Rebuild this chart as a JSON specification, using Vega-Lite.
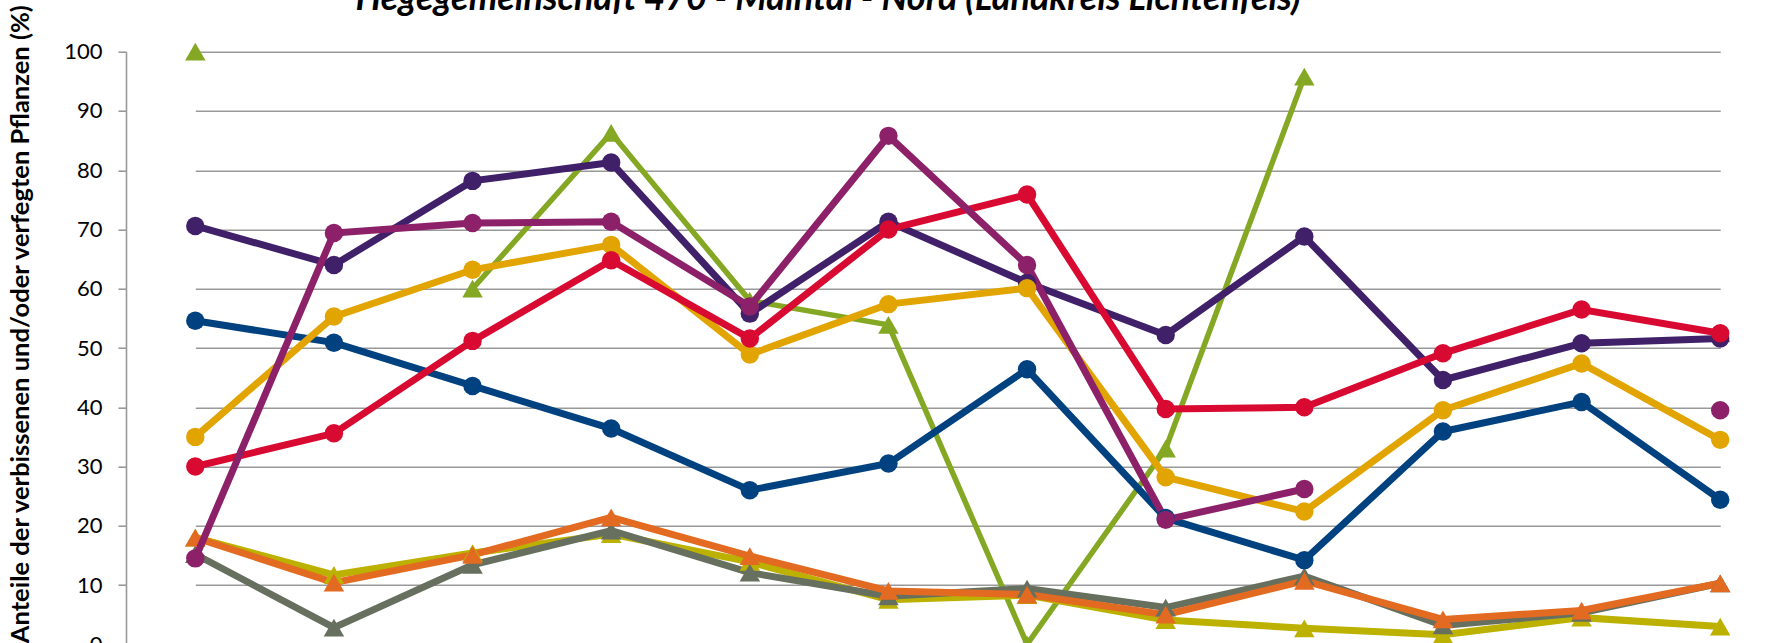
{
  "$schema": "https://vega.github.io/schema/vega-lite/v6.json",
  "autosize": {"type": "none"},
  "width": 1652,
  "height": 591.3,
  "padding": {"left": 126, "top": 51.7, "right": 0, "bottom": 0},
  "background": "white",
  "title": {
    "text": "Hegegemeinschaft 470 - Maintal - Nord (Landkreis Lichtenfels)",
    "font": "Lato", "fontSize": 36, "fontWeight": "bold", "fontStyle": "italic", "color": "#000000",
    "anchor": "middle", "frame": "group", "dx": -124, "dy": 43, "offset": 1, "baseline": "alphabetic"
  },
  "config": {"view": {"stroke": null}},
  "datasets": {
    "d": [
      {"Reihe": "Edellaubholz", "Jahr": "1991", "Wert": 70.6},
      {"Reihe": "Edellaubholz", "Jahr": "1994", "Wert": 64.0},
      {"Reihe": "Edellaubholz", "Jahr": "1997", "Wert": 78.2},
      {"Reihe": "Edellaubholz", "Jahr": "2000", "Wert": 81.3},
      {"Reihe": "Edellaubholz", "Jahr": "2003", "Wert": 55.8},
      {"Reihe": "Edellaubholz", "Jahr": "2006", "Wert": 71.3},
      {"Reihe": "Edellaubholz", "Jahr": "2009", "Wert": 61.0},
      {"Reihe": "Edellaubholz", "Jahr": "2012", "Wert": 52.2},
      {"Reihe": "Edellaubholz", "Jahr": "2015", "Wert": 68.8},
      {"Reihe": "Edellaubholz", "Jahr": "2018", "Wert": 44.6},
      {"Reihe": "Edellaubholz", "Jahr": "2021", "Wert": 50.8},
      {"Reihe": "Edellaubholz", "Jahr": "2024", "Wert": 51.6},

      {"Reihe": "Buche", "Jahr": "1991", "Wert": 54.6},
      {"Reihe": "Buche", "Jahr": "1994", "Wert": 50.9},
      {"Reihe": "Buche", "Jahr": "1997", "Wert": 43.6},
      {"Reihe": "Buche", "Jahr": "2000", "Wert": 36.4},
      {"Reihe": "Buche", "Jahr": "2003", "Wert": 26.0},
      {"Reihe": "Buche", "Jahr": "2006", "Wert": 30.5},
      {"Reihe": "Buche", "Jahr": "2009", "Wert": 46.4},
      {"Reihe": "Buche", "Jahr": "2012", "Wert": 21.3},
      {"Reihe": "Buche", "Jahr": "2015", "Wert": 14.2},
      {"Reihe": "Buche", "Jahr": "2018", "Wert": 35.9},
      {"Reihe": "Buche", "Jahr": "2021", "Wert": 40.9},
      {"Reihe": "Buche", "Jahr": "2024", "Wert": 24.4},

      {"Reihe": "Sonstiges Laubholz", "Jahr": "1991", "Wert": 35.0},
      {"Reihe": "Sonstiges Laubholz", "Jahr": "1994", "Wert": 55.3},
      {"Reihe": "Sonstiges Laubholz", "Jahr": "1997", "Wert": 63.2},
      {"Reihe": "Sonstiges Laubholz", "Jahr": "2000", "Wert": 67.4},
      {"Reihe": "Sonstiges Laubholz", "Jahr": "2003", "Wert": 48.9},
      {"Reihe": "Sonstiges Laubholz", "Jahr": "2006", "Wert": 57.4},
      {"Reihe": "Sonstiges Laubholz", "Jahr": "2009", "Wert": 60.1},
      {"Reihe": "Sonstiges Laubholz", "Jahr": "2012", "Wert": 28.2},
      {"Reihe": "Sonstiges Laubholz", "Jahr": "2015", "Wert": 22.4},
      {"Reihe": "Sonstiges Laubholz", "Jahr": "2018", "Wert": 39.5},
      {"Reihe": "Sonstiges Laubholz", "Jahr": "2021", "Wert": 47.4},
      {"Reihe": "Sonstiges Laubholz", "Jahr": "2024", "Wert": 34.5},

      {"Reihe": "Eiche", "Jahr": "1991", "Wert": 30.0},
      {"Reihe": "Eiche", "Jahr": "1994", "Wert": 35.6},
      {"Reihe": "Eiche", "Jahr": "1997", "Wert": 51.2},
      {"Reihe": "Eiche", "Jahr": "2000", "Wert": 64.8},
      {"Reihe": "Eiche", "Jahr": "2003", "Wert": 51.6},
      {"Reihe": "Eiche", "Jahr": "2006", "Wert": 70.0},
      {"Reihe": "Eiche", "Jahr": "2009", "Wert": 75.9},
      {"Reihe": "Eiche", "Jahr": "2012", "Wert": 39.7},
      {"Reihe": "Eiche", "Jahr": "2015", "Wert": 40.0},
      {"Reihe": "Eiche", "Jahr": "2018", "Wert": 49.1},
      {"Reihe": "Eiche", "Jahr": "2021", "Wert": 56.5},
      {"Reihe": "Eiche", "Jahr": "2024", "Wert": 52.5},

      {"Reihe": "Tanne", "Jahr": "1991", "Wert": 14.5},
      {"Reihe": "Tanne", "Jahr": "1994", "Wert": 69.4},
      {"Reihe": "Tanne", "Jahr": "1997", "Wert": 71.1},
      {"Reihe": "Tanne", "Jahr": "2000", "Wert": 71.3},
      {"Reihe": "Tanne", "Jahr": "2003", "Wert": 57.0},
      {"Reihe": "Tanne", "Jahr": "2006", "Wert": 85.8},
      {"Reihe": "Tanne", "Jahr": "2009", "Wert": 64.0},
      {"Reihe": "Tanne", "Jahr": "2012", "Wert": 21.0},
      {"Reihe": "Tanne", "Jahr": "2015", "Wert": 26.2},
      {"Reihe": "Tanne", "Jahr": "2018", "Wert": null},
      {"Reihe": "Tanne", "Jahr": "2021", "Wert": null},
      {"Reihe": "Tanne", "Jahr": "2024", "Wert": 39.5},

      {"Reihe": "Fichte", "Jahr": "1991", "Wert": 18.0},
      {"Reihe": "Fichte", "Jahr": "1994", "Wert": 11.7},
      {"Reihe": "Fichte", "Jahr": "1997", "Wert": 15.4},
      {"Reihe": "Fichte", "Jahr": "2000", "Wert": 18.6},
      {"Reihe": "Fichte", "Jahr": "2003", "Wert": 13.9},
      {"Reihe": "Fichte", "Jahr": "2006", "Wert": 7.5},
      {"Reihe": "Fichte", "Jahr": "2009", "Wert": 8.3},
      {"Reihe": "Fichte", "Jahr": "2012", "Wert": 4.1},
      {"Reihe": "Fichte", "Jahr": "2015", "Wert": 2.7},
      {"Reihe": "Fichte", "Jahr": "2018", "Wert": 1.6},
      {"Reihe": "Fichte", "Jahr": "2021", "Wert": 4.5},
      {"Reihe": "Fichte", "Jahr": "2024", "Wert": 3.0},

      {"Reihe": "Kiefer", "Jahr": "1991", "Wert": 15.2},
      {"Reihe": "Kiefer", "Jahr": "1994", "Wert": 2.8},
      {"Reihe": "Kiefer", "Jahr": "1997", "Wert": 13.4},
      {"Reihe": "Kiefer", "Jahr": "2000", "Wert": 19.2},
      {"Reihe": "Kiefer", "Jahr": "2003", "Wert": 12.1},
      {"Reihe": "Kiefer", "Jahr": "2006", "Wert": 8.1},
      {"Reihe": "Kiefer", "Jahr": "2009", "Wert": 9.4},
      {"Reihe": "Kiefer", "Jahr": "2012", "Wert": 6.2},
      {"Reihe": "Kiefer", "Jahr": "2015", "Wert": 11.5},
      {"Reihe": "Kiefer", "Jahr": "2018", "Wert": 3.2},
      {"Reihe": "Kiefer", "Jahr": "2021", "Wert": 5.3},
      {"Reihe": "Kiefer", "Jahr": "2024", "Wert": 10.3},

      {"Reihe": "Tanne verfegt", "Jahr": "1991", "Wert": 100},
      {"Reihe": "Tanne verfegt", "Jahr": "1994", "Wert": null},
      {"Reihe": "Tanne verfegt", "Jahr": "1997", "Wert": 60.0},
      {"Reihe": "Tanne verfegt", "Jahr": "2000", "Wert": 86.3},
      {"Reihe": "Tanne verfegt", "Jahr": "2003", "Wert": 58.0},
      {"Reihe": "Tanne verfegt", "Jahr": "2006", "Wert": 53.9},
      {"Reihe": "Tanne verfegt", "Jahr": "2009", "Wert": 0},
      {"Reihe": "Tanne verfegt", "Jahr": "2012", "Wert": 33.0},
      {"Reihe": "Tanne verfegt", "Jahr": "2015", "Wert": 95.8},
      {"Reihe": "Tanne verfegt", "Jahr": "2018", "Wert": null},
      {"Reihe": "Tanne verfegt", "Jahr": "2021", "Wert": null},
      {"Reihe": "Tanne verfegt", "Jahr": "2024", "Wert": 52.5},

      {"Reihe": "Laubholz verfegt", "Jahr": "1991", "Wert": 18.0},
      {"Reihe": "Laubholz verfegt", "Jahr": "1994", "Wert": 10.4},
      {"Reihe": "Laubholz verfegt", "Jahr": "1997", "Wert": 15.1},
      {"Reihe": "Laubholz verfegt", "Jahr": "2000", "Wert": 21.4},
      {"Reihe": "Laubholz verfegt", "Jahr": "2003", "Wert": 14.9},
      {"Reihe": "Laubholz verfegt", "Jahr": "2006", "Wert": 9.0},
      {"Reihe": "Laubholz verfegt", "Jahr": "2009", "Wert": 8.4},
      {"Reihe": "Laubholz verfegt", "Jahr": "2012", "Wert": 5.0},
      {"Reihe": "Laubholz verfegt", "Jahr": "2015", "Wert": 10.7},
      {"Reihe": "Laubholz verfegt", "Jahr": "2018", "Wert": 4.2},
      {"Reihe": "Laubholz verfegt", "Jahr": "2021", "Wert": 5.7},
      {"Reihe": "Laubholz verfegt", "Jahr": "2024", "Wert": 10.3}
    ]
  },
  "data": {"name": "d"},
  "encoding": {
    "x": {
      "field": "Jahr", "type": "ordinal",
      "scale": {"type": "point", "padding": 0, "domain": ["1991","1994","1997","2000","2003","2006","2009","2012","2015","2018","2021","2024"], "range": [69.3, 1594.2]},
      "axis": null
    },
    "y": {
      "field": "Wert", "type": "quantitative",
      "scale": {"domain": [0, 100], "range": [592.6, 0], "nice": false},
      "axis": {
        "values": [0,10,20,30,40,50,60,70,80,90,100],
        "grid": true, "gridColor": "#999999", "gridWidth": 1.6,
        "domain": true, "domainColor": "#999999", "domainWidth": 1.6,
        "ticks": true, "tickColor": "#999999", "tickWidth": 1.6, "tickSize": 8,
        "labelFont": "Lato", "labelFontSize": 22, "labelColor": "#000000", "labelPadding": 16,
        "title": "Anteile der verbissenen und/oder verfegten Pflanzen (%)",
        "titleFont": "Lato", "titleFontSize": 25.5, "titleFontWeight": "bold", "titleColor": "#000000",
        "titleX": -106, "titleY": 272, "titleAngle": 270, "titleAlign": "center", "titleBaseline": "middle"
      }
    },
    "color": {
      "field": "Reihe", "type": "nominal", "legend": null,
      "scale": {
        "domain": ["Fichte","Kiefer","Tanne verfegt","Laubholz verfegt","Buche","Edellaubholz","Sonstiges Laubholz","Eiche","Tanne"],
        "range": ["#BDB100","#67705F","#84A823","#E36A21","#00417F","#3F2069","#E2A400","#D90A31","#8D2169"]
      }
    }
  },
  "layer": [
    {
      "transform": [{"filter": {"field": "Reihe", "oneOf": ["Tanne verfegt"]}}],
      "mark": {"type": "line", "strokeWidth": 5.5, "invalid": "break-paths-filter-domains"}
    },
    {
      "transform": [{"filter": {"field": "Reihe", "oneOf": ["Fichte","Kiefer","Laubholz verfegt"]}}],
      "mark": {"type": "line", "strokeWidth": 7, "invalid": "break-paths-filter-domains"}
    },
    {
      "transform": [{"filter": {"field": "Reihe", "oneOf": ["Fichte","Kiefer","Tanne verfegt","Laubholz verfegt"]}}, {"filter": "datum.Wert != null"}],
      "mark": {"type": "point", "shape": "triangle-up", "filled": true, "opacity": 1, "size": 420}
    },
    {
      "transform": [{"filter": {"field": "Reihe", "oneOf": ["Buche","Edellaubholz","Sonstiges Laubholz","Eiche","Tanne"]}}],
      "mark": {"type": "line", "strokeWidth": 7, "invalid": "break-paths-filter-domains"}
    },
    {
      "transform": [{"filter": {"field": "Reihe", "oneOf": ["Buche","Edellaubholz","Sonstiges Laubholz","Eiche","Tanne"]}}, {"filter": "datum.Wert != null"}],
      "mark": {"type": "circle", "opacity": 1, "size": 340}
    }
  ]
}
